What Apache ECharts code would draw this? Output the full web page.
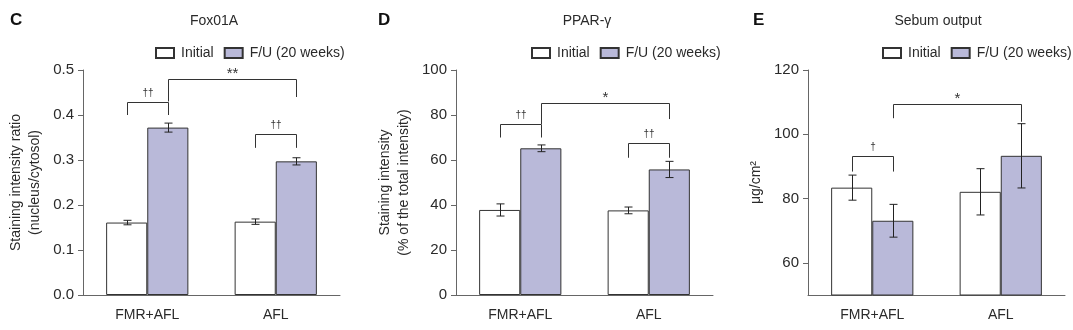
<!DOCTYPE html>
<html><head><meta charset="utf-8">
<script src="https://cdn.jsdelivr.net/npm/echarts@6/dist/echarts.min.js"></script>
<style>html,body{margin:0;padding:0;background:#fff}#c{width:1073px;height:330px}</style>
</head><body><div id="c"></div>
<script>
const categories = ['FMR+AFL', 'AFL'];
const seriesNames = ['Initial', 'F/U (20 weeks)'];

// Panel C: Fox01A
const foxInitial = [0.161, 0.163];
const foxInitialErr = [0.005, 0.006];
const foxFU = [0.372, 0.297];
const foxFUErr = [0.010, 0.008];
const foxTicks = [0.0, 0.1, 0.2, 0.3, 0.4, 0.5];
// [fromCat, fromSide, toCat, toSide, top, leftBottom, rightBottom]
const foxBrackets = [[0, -1, 0, 1, 0.43, 0.40, 0.40], [1, -1, 1, 1, 0.358, 0.327, 0.327], [0, 1, 1, 1, 0.48, 0.43, 0.44]];
const foxMarks = ['††', '††', '**'];

// Panel D: PPAR-γ
const pparInitial = [37.8, 37.6];
const pparInitialErr = [2.7, 1.5];
const pparFU = [65.2, 55.8];
const pparFUErr = [1.5, 3.6];
const pparTicks = [0, 20, 40, 60, 80, 100];
const pparBrackets = [[0, -1, 0, 1, 76, 70, 70], [1, -1, 1, 1, 67.4, 61, 61], [0, 1, 1, 1, 85.5, 76, 78.2]];
const pparMarks = ['††', '††', '*'];

// Panel E: Sebum output
const sebumInitial = [83.4, 82.1];
const sebumInitialErr = [3.9, 7.2];
const sebumFU = [73.1, 93.3];
const sebumFUErr = [5.1, 10.0];
const sebumTicks = [60, 80, 100, 120];
const sebumBrackets = [[0, -1, 0, 1, 93.2, 88.4, 88.4], [0, 1, 1, 1, 109.3, 105, 103.9]];
const sebumMarks = ['†', '*'];

const FONT = "'Liberation Sans Narrow', 'Arial Narrow', 'Liberation Sans', sans-serif";
const TXT = '#2a2a2a';
const AX = '#666';
const FU_COLOR = '#b9b9d9';
const EDGE = '#333';
const SIDE = 0.16; // bar centre offset as fraction of band

const panels = [
  { letter: 'C', title: 'Fox01A', left: 83, letterX: 10, titleX: 214, legendX: 155,
    name: 'Staining intensity ratio\n(nucleus/cytosol)', nameGap: 38,
    min: 0, max: 0.5, interval: 0.1, ticks: foxTicks, fmt: v => v.toFixed(1),
    init: foxInitial, initErr: foxInitialErr, fu: foxFU, fuErr: foxFUErr,
    brackets: foxBrackets, marks: foxMarks },
  { letter: 'D', title: 'PPAR-γ', left: 456, letterX: 378, titleX: 587, legendX: 531,
    name: 'Staining intensity\n(% of the total intensity)', nameGap: 42,
    min: 0, max: 100, interval: 20, ticks: pparTicks, fmt: v => String(v),
    init: pparInitial, initErr: pparInitialErr, fu: pparFU, fuErr: pparFUErr,
    brackets: pparBrackets, marks: pparMarks },
  { letter: 'E', title: 'Sebum output', left: 808, letterX: 753, titleX: 938, legendX: 882,
    name: 'μg/cm²', nameGap: 42,
    min: 50, max: 120, interval: 10, ticks: sebumTicks, fmt: v => String(v),
    init: sebumInitial, initErr: sebumInitialErr, fu: sebumFU, fuErr: sebumFUErr,
    brackets: sebumBrackets, marks: sebumMarks }
];

function errRender(side) {
  return function (params, api) {
    const cat = api.value(0);
    const band = api.size([1, 0])[0];
    const dx = side * band * SIDE;
    const lo = api.coord([cat, api.value(1)]);
    const hi = api.coord([cat, api.value(2)]);
    const x = Math.round(lo[0] + dx) + 0.5;
    const s = { stroke: '#222', lineWidth: 1 };
    return { type: 'group', children: [
      { type: 'line', shape: { x1: x, y1: lo[1], x2: x, y2: hi[1] }, style: s },
      { type: 'line', shape: { x1: x - 4, y1: lo[1], x2: x + 4, y2: lo[1] }, style: s },
      { type: 'line', shape: { x1: x - 4, y1: hi[1], x2: x + 4, y2: hi[1] }, style: s }
    ]};
  };
}

function bracketRender(marks) {
  return function (params, api) {
    const band = api.size([1, 0])[0];
    const fc = api.value(0), fs = api.value(1), tc = api.value(2), ts = api.value(3);
    const top = api.value(4), lb = api.value(5), rb = api.value(6);
    const pTopL = api.coord([fc, top]);
    const pTopR = api.coord([tc, top]);
    const xL = Math.round(pTopL[0] + fs * band * SIDE) + 0.5;
    const xR = Math.round(pTopR[0] + ts * band * SIDE) + 0.5;
    const yT = Math.round(pTopL[1]) + 0.5;
    const yL = api.coord([fc, lb])[1];
    const yR = api.coord([tc, rb])[1];
    const s = { stroke: '#333', lineWidth: 1, fill: null };
    const label = marks[params.dataIndex];
    const isStar = label.indexOf('*') >= 0;
    return { type: 'group', children: [
      { type: 'polyline', shape: { points: [[xL, yL], [xL, yT], [xR, yT], [xR, yR]] }, style: s },
      { type: 'text', x: (xL + xR) / 2, y: yT - (isStar ? 6 : 9),
        style: { text: label, fontSize: isStar ? 15 : 10, fontFamily: FONT, fill: '#333', align: 'center', verticalAlign: 'middle' } }
    ]};
  };
}

const grid = [], xAxis = [], yAxis = [], series = [], title = [], legend = [];
panels.forEach((p, i) => {
  grid.push({ left: p.left, top: 70, width: 257, height: 225 });
  xAxis.push({ type: 'category', gridIndex: i, data: categories,
    axisLine: { lineStyle: { color: AX, width: 1 } },
    axisTick: { alignWithLabel: true, length: 5, lineStyle: { color: AX } },
    axisLabel: { fontSize: 14, color: TXT, fontFamily: FONT, margin: 13 } });
  yAxis.push({ type: 'value', gridIndex: i, min: p.min, max: p.max, interval: p.interval,
    name: p.name, nameLocation: 'middle', nameGap: p.nameGap,
    nameTextStyle: { fontSize: 14, color: TXT, fontFamily: FONT, lineHeight: 19 },
    splitLine: { show: false },
    axisLine: { show: true, lineStyle: { color: AX, width: 1 } },
    axisTick: { show: true, length: 5, lineStyle: { color: AX }, customValues: p.ticks },
    axisLabel: { fontSize: 15, color: TXT, fontFamily: FONT, margin: 9, formatter: p.fmt, customValues: p.ticks } });
  series.push({ name: seriesNames[0], type: 'bar', xAxisIndex: i, yAxisIndex: i, data: p.init,
    barCategoryGap: '36%', barGap: '0%',
    itemStyle: { color: '#fff', borderColor: EDGE, borderWidth: 1 } });
  series.push({ name: seriesNames[1], type: 'bar', xAxisIndex: i, yAxisIndex: i, data: p.fu,
    barCategoryGap: '36%', barGap: '0%',
    itemStyle: { color: FU_COLOR, borderColor: EDGE, borderWidth: 1 } });
  series.push({ type: 'custom', xAxisIndex: i, yAxisIndex: i, z: 5, silent: true,
    renderItem: errRender(-1), encode: { x: 0, y: [1, 2] },
    data: p.init.map((v, k) => [k, v - p.initErr[k], v + p.initErr[k]]) });
  series.push({ type: 'custom', xAxisIndex: i, yAxisIndex: i, z: 5, silent: true,
    renderItem: errRender(1), encode: { x: 0, y: [1, 2] },
    data: p.fu.map((v, k) => [k, v - p.fuErr[k], v + p.fuErr[k]]) });
  series.push({ type: 'custom', xAxisIndex: i, yAxisIndex: i, z: 5, silent: true, clip: false,
    renderItem: bracketRender(p.marks), encode: { x: 0, y: 4 },
    data: p.brackets });
  title.push({ text: p.letter, left: p.letterX, top: 12, padding: 0,
    textStyle: { fontSize: 17, fontWeight: 'bold', color: '#111', fontFamily: FONT } });
  title.push({ text: p.title, left: p.titleX, top: 14, padding: 0, textAlign: 'center',
    textStyle: { fontSize: 14, fontWeight: 'normal', color: TXT, fontFamily: FONT } });
  legend.push({ data: seriesNames, left: p.legendX, top: 46, width: 300, padding: 0,
    itemWidth: 18, itemHeight: 10, itemGap: 10,
    icon: 'rect', selectedMode: false,
    textStyle: { fontSize: 14, color: TXT, fontFamily: FONT, padding: [0, 0, 0, 2] } });
});

const chart = echarts.init(document.getElementById('c'), null, { renderer: 'canvas' });
chart.setOption({ animation: false, backgroundColor: '#fff', grid, xAxis, yAxis, series, title, legend });
</script>
</body></html>
